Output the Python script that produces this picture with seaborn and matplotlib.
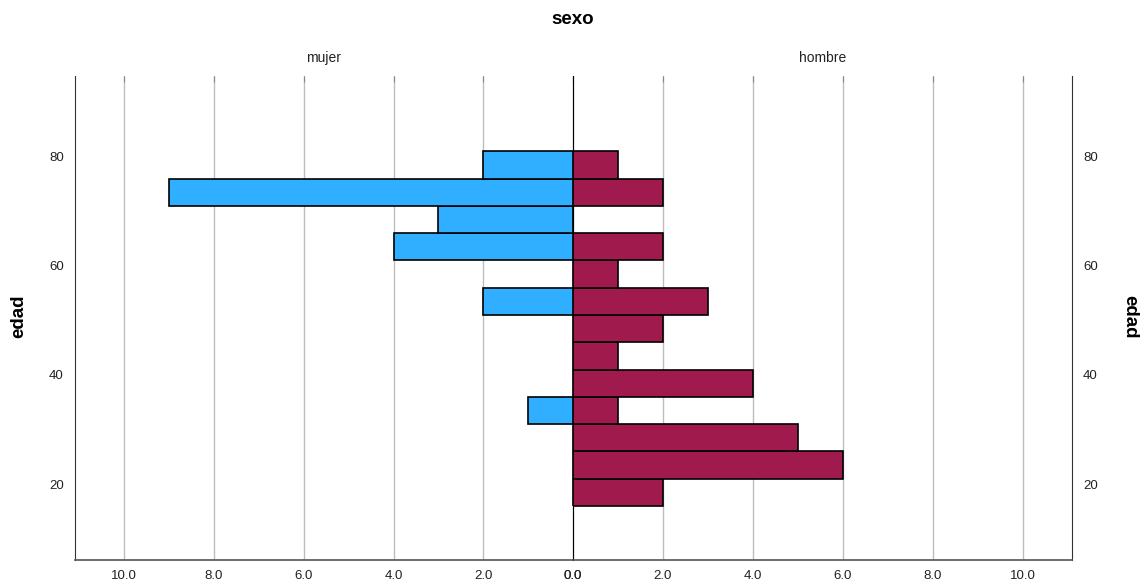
import numpy as np
import pandas as pd
import matplotlib
matplotlib.use('Agg')
import matplotlib.pyplot as plt
import seaborn as sns

## data: age bins of width 5, counts per sex
bin_edges = [16, 21, 26, 31, 36, 41, 46, 51, 56, 61, 66, 71, 76, 81]
mujer_counts = [0, 0, 0, 1, 0, 0, 0, 2, 0, 4, 3, 9, 2]
hombre_counts = [2, 6, 5, 1, 4, 1, 2, 3, 1, 2, 0, 2, 1]
x_ticks = [0, 2, 4, 6, 8, 10]
y_ticks = [20, 40, 60, 80]

BLUE = '#30AEFF'
MAROON = '#A01A4E'

centers = [(a + b) / 2 for a, b in zip(bin_edges[:-1], bin_edges[1:])]
df = pd.DataFrame({'edad': centers, 'mujer': mujer_counts, 'hombre': hombre_counts})

sns.set_style('white')
plt.rcParams['font.family'] = ['Liberation Sans', 'DejaVu Sans']
plt.rcParams['text.color'] = 'black'

fig = plt.figure(figsize=(11.46, 5.86), dpi=100)
ax_l = fig.add_axes([0.0654, 0.0444, 0.4346, 0.826])
ax_r = fig.add_axes([0.5, 0.0444, 0.4354, 0.826], sharey=ax_l)

for ax, col, color in [(ax_l, 'mujer', BLUE), (ax_r, 'hombre', MAROON)]:
    sns.histplot(data=df, y='edad', weights=col, bins=bin_edges, color=color,
                 edgecolor='black', linewidth=1.2, alpha=1, ax=ax, zorder=3)
    ax.set_xlim(0, 11.1)
    ax.set_xticks(x_ticks)
    ax.set_xticklabels(['{:.1f}'.format(v) for v in x_ticks], fontsize=9.5)
    ax.grid(axis='x', color='#bdbdbd', linewidth=1, zorder=0)
    ax.tick_params(axis='x', bottom=False, top=True, direction='in', length=4,
                   color='#888888', labelbottom=True, labeltop=False, pad=7,
                   labelcolor='#222222')
    ax.tick_params(axis='y', length=0, labelsize=9.5, labelcolor='#222222')
    ax.set_xlabel('')
    ax.set_ylabel('')
    ax.spines['top'].set_visible(False)
    ax.spines['bottom'].set_color('#555555')
    ax.spines['bottom'].set_linewidth(1.2)
    ax.set_title(col, fontsize=10, pad=10, color='#222222')

ax_l.invert_xaxis()
ax_l.spines['right'].set_visible(False)
ax_l.spines['left'].set_color('#333333')
ax_r.spines['left'].set_color('black')
ax_r.spines['left'].set_linewidth(0.8)
ax_r.spines['right'].set_color('#333333')
ax_r.yaxis.tick_right()
ax_r.tick_params(axis='y', length=0, labelright=True, labelleft=False, pad=8)
ax_l.tick_params(axis='y', pad=8)

ax_l.set_ylim(6.1, 94.8)
ax_l.set_yticks(y_ticks)

fig.text(0.5, 0.967, 'sexo', ha='center', va='center', fontsize=13.5, fontweight='bold')
fig.text(0.016, 0.46, 'edad', ha='center', va='center', rotation=90, fontsize=13.5, fontweight='bold')
fig.text(0.986, 0.46, 'edad', ha='center', va='center', rotation=270, fontsize=13.5, fontweight='bold')

fig.savefig('out.png', dpi=100)
